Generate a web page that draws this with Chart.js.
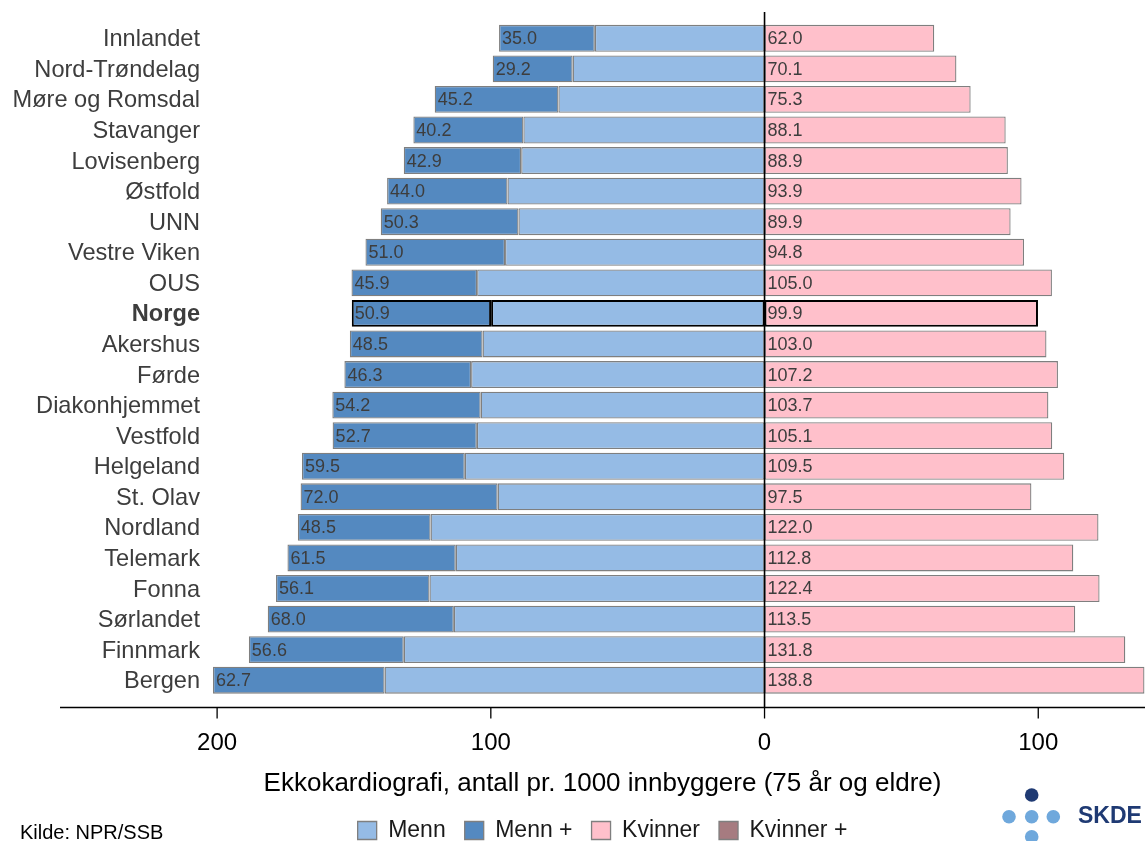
<!DOCTYPE html>
<html>
<head>
<meta charset="utf-8">
<script src="https://cdn.jsdelivr.net/npm/chart.js@4.4.1/dist/chart.umd.min.js"></script>
<style>
  html, body { margin: 0; padding: 0; background: #fff; }
  #wrap { position: relative; width: 1145px; height: 841px; overflow: hidden; font-family: "Liberation Sans", Arial, sans-serif; }
  #kilde { position: absolute; left: 20px; top: 821px; font-size: 20px; color: #000; white-space: nowrap; }
  #logo { position: absolute; left: 990px; top: 770px; }
</style>
</head>
<body>
<div id="wrap">
  <canvas id="chart-ekko"></canvas>
  <div id="kilde">Kilde: NPR/SSB</div>
  <svg id="logo" width="155" height="71">
    <circle cx="41.7" cy="25" r="6.8" fill="#1f3a73"/>
    <circle cx="19" cy="46.7" r="6.8" fill="#6fa8dc"/>
    <circle cx="41.7" cy="46.7" r="6.8" fill="#6fa8dc"/>
    <circle cx="63.3" cy="46.7" r="6.8" fill="#6fa8dc"/>
    <circle cx="41.7" cy="66.7" r="6.8" fill="#6fa8dc"/>
    <text x="88" y="53.3" font-family="Liberation Sans, Arial, sans-serif" font-weight="bold" font-size="23" fill="#1f3a73">SKDE</text>
  </svg>
</div>
<script>
// Ekkokardiografi per 1000 innbyggere 75+ - data lest av figuren
const regioner = ['Innlandet', 'Nord-Trøndelag', 'Møre og Romsdal', 'Stavanger', 'Lovisenberg', 'Østfold', 'UNN',
  'Vestre Viken', 'OUS', 'Norge', 'Akershus', 'Førde', 'Diakonhjemmet', 'Vestfold', 'Helgeland', 'St. Olav',
  'Nordland', 'Telemark', 'Fonna', 'Sørlandet', 'Finnmark', 'Bergen'];
const menn = [62.0, 70.1, 75.3, 88.1, 88.9, 93.9, 89.9, 94.8, 105.0, 99.9, 103.0, 107.2, 103.7, 105.1, 109.5, 97.5,
  122.0, 112.8, 122.4, 113.5, 131.8, 138.8];
const mennPluss = [35.0, 29.2, 45.2, 40.2, 42.9, 44.0, 50.3, 51.0, 45.9, 50.9, 48.5, 46.3, 54.2, 52.7, 59.5, 72.0,
  48.5, 61.5, 56.1, 68.0, 56.6, 62.7];
const kvinner = [62.0, 70.1, 75.3, 88.1, 88.9, 93.9, 89.9, 94.8, 105.0, 99.9, 103.0, 107.2, 103.7, 105.1, 109.5, 97.5,
  122.0, 112.8, 122.4, 113.5, 131.8, 138.8];
const kvinnerPluss = [null, null, null, null, null, null, null, null, null, null, null, null, null, null, null, null,
  null, null, null, null, null, null];
const xTicks = [-200, -100, 0, 100];

const normIdx = regioner.indexOf('Norge');
const fontFamily = '"Liberation Sans", Arial, sans-serif';
Chart.defaults.font.family = fontFamily;

const kant = c => c.dataIndex === normIdx ? '#000000' : '#7f7f7f';
const kantBredde = c => c.dataIndex === normIdx ? 2 : 1.3;

// akselinjer, nullinje, regionnavn og tall i stolpene
const akser = {
  id: 'akser',
  afterDatasetsDraw(chart) {
    const { ctx, chartArea, scales: { x, y } } = chart;
    const akseY = chartArea.bottom + 12;
    ctx.save();
    ctx.strokeStyle = '#000';
    ctx.lineWidth = 1.3;
    ctx.beginPath();
    ctx.moveTo(chartArea.left, akseY);
    ctx.lineTo(chartArea.right, akseY);
    xTicks.forEach(v => {
      const px = x.getPixelForValue(v);
      ctx.moveTo(px, akseY);
      ctx.lineTo(px, akseY + 11);
    });
    ctx.stroke();

    const x0 = x.getPixelForValue(0);
    ctx.lineWidth = 1.6;
    ctx.beginPath();
    ctx.moveTo(x0, chartArea.top - 11);
    ctx.lineTo(x0, akseY);
    ctx.stroke();

    // regionnavn, hoyrejustert
    ctx.textBaseline = 'middle';
    ctx.textAlign = 'right';
    ctx.fillStyle = '#3d3d3d';
    regioner.forEach((navn, i) => {
      ctx.font = (i === normIdx ? 'bold ' : '') + '23.6px ' + fontFamily;
      ctx.fillText(navn, chartArea.left + 140, y.getPixelForTick(i) + 1.5);
    });

    ctx.font = '18px ' + fontFamily;
    ctx.textAlign = 'left';
    chart.getDatasetMeta(1).data.forEach((el, i) => {
      ctx.fillText(mennPluss[i].toFixed(1), Math.min(el.x, el.base) + 3, el.y + 1);
    });
    chart.getDatasetMeta(2).data.forEach((el, i) => {
      ctx.fillText(kvinner[i].toFixed(1), el.base + 3, el.y + 1);
    });
    ctx.restore();
  }
};

const ctx = document.getElementById('chart-ekko').getContext('2d');
ctx.canvas.width = 1145;
ctx.canvas.height = 841;

new Chart(ctx, {
  type: 'bar',
  data: {
    labels: regioner,
    datasets: [
      { label: 'Menn', data: menn.map(v => -v), backgroundColor: '#95bbe5' },
      { label: 'Menn +', data: mennPluss.map(v => -v), backgroundColor: '#5489c0' },
      { label: 'Kvinner', data: kvinner, backgroundColor: '#ffc0cb' },
      { label: 'Kvinner +', data: kvinnerPluss, backgroundColor: '#a67b80' }
    ]
  },
  options: {
    indexAxis: 'y',
    responsive: false,
    animation: false,
    datasets: {
      bar: {
        borderColor: kant,
        borderWidth: kantBredde,
        borderSkipped: false,
        categoryPercentage: 1,
        barPercentage: 0.88
      }
    },
    layout: { padding: { top: 23, right: 0, bottom: -11, left: 0 } },
    plugins: {
      tooltip: { enabled: false },
      legend: {
        position: 'bottom',
        fullSize: false,
        labels: {
          boxWidth: 19,
          boxHeight: 18,
          padding: 19,
          color: '#1a1a1a',
          font: { size: 23 }
        }
      }
    },
    scales: {
      x: {
        type: 'linear',
        stacked: true,
        min: -257.4,
        max: 139,
        grid: { display: false, drawTicks: false },
        border: { display: false },
        afterBuildTicks: s => { s.ticks = xTicks.map(v => ({ value: v })); },
        ticks: {
          padding: 33,
          color: '#000',
          font: { size: 24 },
          callback: v => Math.abs(v)
        },
        title: {
          display: true,
          text: 'Ekkokardiografi, antall pr. 1000 innbyggere (75 år og eldre)',
          color: '#000',
          font: { size: 26 },
          padding: { top: 0, bottom: 1 }
        },
        afterFit: s => { s.height = 104.5; }
      },
      y: {
        stacked: true,
        grid: { display: false, drawTicks: false },
        border: { display: false },
        ticks: { display: false },
        afterFit: s => { s.width = 60; }
      }
    }
  },
  plugins: [akser]
});
</script>
</body>
</html>
